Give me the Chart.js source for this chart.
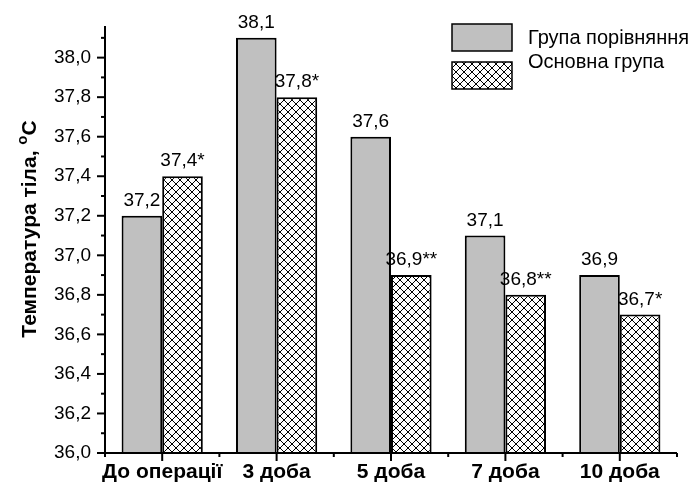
<!DOCTYPE html>
<html>
<head>
<meta charset="utf-8">
<script src="https://cdn.jsdelivr.net/npm/chart.js@4.4.0/dist/chart.umd.min.js"></script>
<style>
  html, body { margin: 0; padding: 0; background: #fff; }
  #wrap { width: 692px; height: 483px; }
</style>
</head>
<body>
<div id="wrap"><canvas id="tempChart" width="692" height="483"></canvas></div>
<script>
const categories = ["До операції", "3 доба", "5 доба", "7 доба", "10 доба"];
const compareGroup = [37.2, 38.1, 37.6, 37.1, 36.9];
const mainGroup = [37.4, 37.8, 36.9, 36.8, 36.7];
const compareMarks = ["", "", "", "", ""];
const mainMarks = ["*", "*", "**", "**", "*"];
const seriesNames = ["Група порівняння", "Основна група"];
const yMin = 36.0, yMax = 38.16, yStep = 0.2;

const FONT = "'Liberation Sans', Arial, sans-serif";
const fmt = v => v.toFixed(1).replace(".", ",");

// cross hatch fill
const patCanvas = document.createElement("canvas");
patCanvas.width = 8; patCanvas.height = 8;
const pc = patCanvas.getContext("2d");
pc.fillStyle = "#fff";
pc.fillRect(0, 0, 8, 8);
pc.strokeStyle = "#000";
pc.lineWidth = 1;
pc.beginPath();
pc.moveTo(0, 0); pc.lineTo(8, 8);
pc.moveTo(8, 0); pc.lineTo(0, 8);
pc.stroke();
const hatch = pc.createPattern(patCanvas, "repeat");

const fills = ["#c0c0c0", hatch];

// ticks (major + minor), axis lines
const axisPlugin = {
    id: "axisTicks",
    afterDraw(chart) {
        const { ctx, chartArea, scales } = chart;
        const y = scales.y, x = scales.x;
        ctx.save();
        ctx.strokeStyle = "#000";
        ctx.lineWidth = 2;
        ctx.beginPath();
        ctx.moveTo(chartArea.left, chartArea.top);
        ctx.lineTo(chartArea.left, chartArea.bottom);
        ctx.lineTo(chartArea.right, chartArea.bottom);
        ctx.stroke();
        for (let i = 0; yMin + i * 0.1 <= yMax + 1e-9; i++) {
            const py = y.getPixelForValue(yMin + i * 0.1);
            const len = i % 2 === 0 ? 8 : 4;
            ctx.beginPath();
            ctx.moveTo(chartArea.left - len, py);
            ctx.lineTo(chartArea.left, py);
            ctx.stroke();
        }
        for (let i = 0; i < categories.length; i++) {
            const px = x.getPixelForValue(i);
            ctx.beginPath();
            ctx.moveTo(px, chartArea.bottom);
            ctx.lineTo(px, chartArea.bottom + 8);
            ctx.stroke();
        }
        for (let i = 0; i <= categories.length; i++) {
            const px = x.getPixelForValue(i - 0.5);
            ctx.beginPath();
            ctx.moveTo(px, chartArea.bottom);
            ctx.lineTo(px, chartArea.bottom + 4);
            ctx.stroke();
        }
        ctx.restore();
    }
};

// value labels above bars
const labelPlugin = {
    id: "barLabels",
    afterDatasetsDraw(chart) {
        const ctx = chart.ctx;
        const marks = [compareMarks, mainMarks];
        ctx.save();
        ctx.fillStyle = "#000";
        ctx.font = "19px " + FONT;
        ctx.textAlign = "center";
        ctx.textBaseline = "alphabetic";
        chart.data.datasets.forEach((ds, di) => {
            chart.getDatasetMeta(di).data.forEach((bar, i) => {
                ctx.fillText(fmt(ds.data[i]) + marks[di][i], bar.x, bar.y - 10);
            });
        });
        ctx.restore();
    }
};

// legend + y title with superscript
const extrasPlugin = {
    id: "extras",
    afterDraw(chart) {
        const ctx = chart.ctx;
        ctx.save();
        chart.data.datasets.forEach((ds, di) => {
            const top = 24 + di * 38;
            ctx.fillStyle = ds.backgroundColor;
            ctx.fillRect(452, top, 60, 27);
            ctx.strokeStyle = "#000";
            ctx.lineWidth = 1.5;
            ctx.strokeRect(452, top, 60, 27);
        });
        ctx.fillStyle = "#000";
        ctx.font = "20px " + FONT;
        ctx.textAlign = "left";
        ctx.textBaseline = "middle";
        ctx.fillText(seriesNames[0], 528, 38);
        ctx.fillText(seriesNames[1], 528, 62);

        // y axis title
        ctx.translate(36, 229);
        ctx.rotate(-Math.PI / 2);
        ctx.textBaseline = "alphabetic";
        const main = "Температура тіла, ";
        ctx.font = "bold 21px " + FONT;
        const w1 = ctx.measureText(main).width;
        const wC = ctx.measureText("C").width;
        ctx.font = "bold 15px " + FONT;
        const wo = ctx.measureText("o").width;
        const total = w1 + wo + wC;
        let sx = -total / 2;
        ctx.font = "bold 21px " + FONT;
        ctx.fillText(main, sx, 0);
        ctx.font = "bold 15px " + FONT;
        ctx.fillText("o", sx + w1, -9);
        ctx.font = "bold 21px " + FONT;
        ctx.fillText("C", sx + w1 + wo, 0);
        ctx.restore();
    }
};

new Chart(document.getElementById("tempChart"), {
    type: "bar",
    data: {
        labels: categories,
        datasets: [
            {
                label: seriesNames[0],
                data: compareGroup,
                backgroundColor: fills[0],
                borderColor: "#000",
                borderWidth: 2,
                borderSkipped: "bottom"
            },
            {
                label: seriesNames[1],
                data: mainGroup,
                backgroundColor: fills[1],
                borderColor: "#000",
                borderWidth: 2,
                borderSkipped: "bottom"
            }
        ]
    },
    options: {
        responsive: false,
        animation: false,
        devicePixelRatio: 1,
        layout: { padding: { top: 26, right: 15, left: 0, bottom: 0 } },
        categoryPercentage: 0.71,
        barPercentage: 1,
        plugins: {
            legend: { display: false },
            tooltip: { enabled: false }
        },
        scales: {
            x: {
                grid: { display: false, drawTicks: false },
                border: { display: false },
                ticks: {
                    color: "#000",
                    font: { family: FONT, size: 21, weight: "bold" },
                    padding: 7,
                    maxRotation: 0,
                    autoSkip: false
                },
                afterFit(scale) { scale.height = 30; }
            },
            y: {
                min: yMin,
                max: yMax,
                grid: { display: false, drawTicks: false },
                border: { display: false },
                ticks: {
                    stepSize: yStep,
                    includeBounds: false,
                    color: "#000",
                    font: { family: FONT, size: 19 },
                    padding: 14,
                    callback: v => fmt(v)
                },
                afterFit(scale) { scale.width = 105; }
            }
        }
    },
    plugins: [axisPlugin, labelPlugin, extrasPlugin]
});
</script>
</body>
</html>
